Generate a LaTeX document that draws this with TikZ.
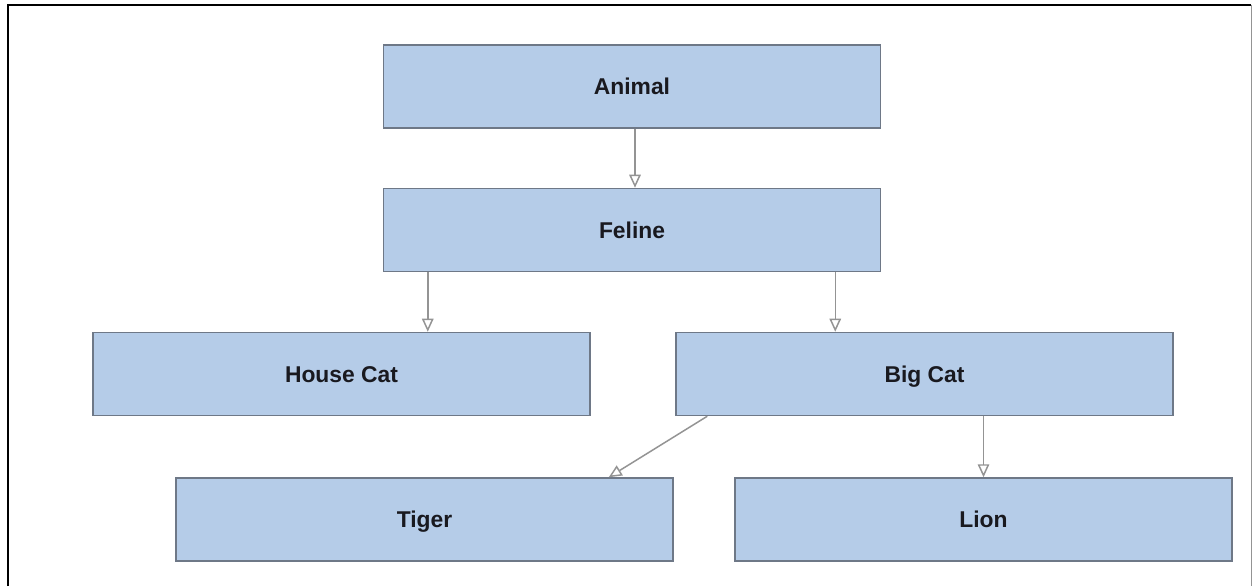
\documentclass[tikz,border=0pt]{standalone}
\usepackage{fontspec}
\setmainfont{Liberation Sans}
\usetikzlibrary{arrows.meta}
\begin{document}
\begin{tikzpicture}[box/.style={draw=hyEdge, line width=0.85pt, fill=hyFill, minimum width=9.94cm, minimum height=1.66cm, inner sep=0pt, text height=2.0ex, text depth=0.2ex, font=\fontsize{13}{15}\selectfont\bfseries, text=hyText}, link/.style={-{Triangle[open, length=2.6mm, width=2.3mm]}, line width=0.85pt, hyLine}, frame/.style={line width=1.1pt, black}]
\definecolor{hyFill}{rgb}{0.71,0.80,0.91}
\definecolor{hyEdge}{rgb}{0.43,0.47,0.53}
\definecolor{hyLine}{rgb}{0.58,0.58,0.58}
\definecolor{hyText}{rgb}{0.10,0.10,0.12}
\useasboundingbox (0,0) rectangle (25.06,11.72);
\draw[frame] (0.16,0) -- (0.16,11.62) -- (25.02,11.62);
\draw[line width=0.4pt, hyLine] (25.02,11.62) -- (25.02,0);
\node[box] (animal) at (12.64,9.99) {Animal};
\node[box] (feline) at (12.64,7.12) {Feline};
\node[box] (housecat) at (6.83,4.24) {House Cat};
\node[box] (bigcat) at (18.49,4.24) {Big Cat};
\node[box] (tiger) at (8.49,1.33) {Tiger};
\node[box] (lion) at (19.67,1.33) {Lion};
\draw[link] ([xshift=0.06cm]animal.south) -- ([xshift=0.06cm]feline.north);
\draw[link] ([xshift=0.9cm]feline.south west) -- ([xshift=0.9cm]feline.south west |- housecat.north);
\draw[link] ([xshift=-0.92cm]feline.south east) -- ([xshift=-0.92cm]feline.south east |- bigcat.north);
\draw[link] ([xshift=0.64cm]bigcat.south west) -- ([xshift=-1.3cm]tiger.north east);
\draw[link] (lion.north |- bigcat.south) -- (lion.north);
\end{tikzpicture}
\end{document}
